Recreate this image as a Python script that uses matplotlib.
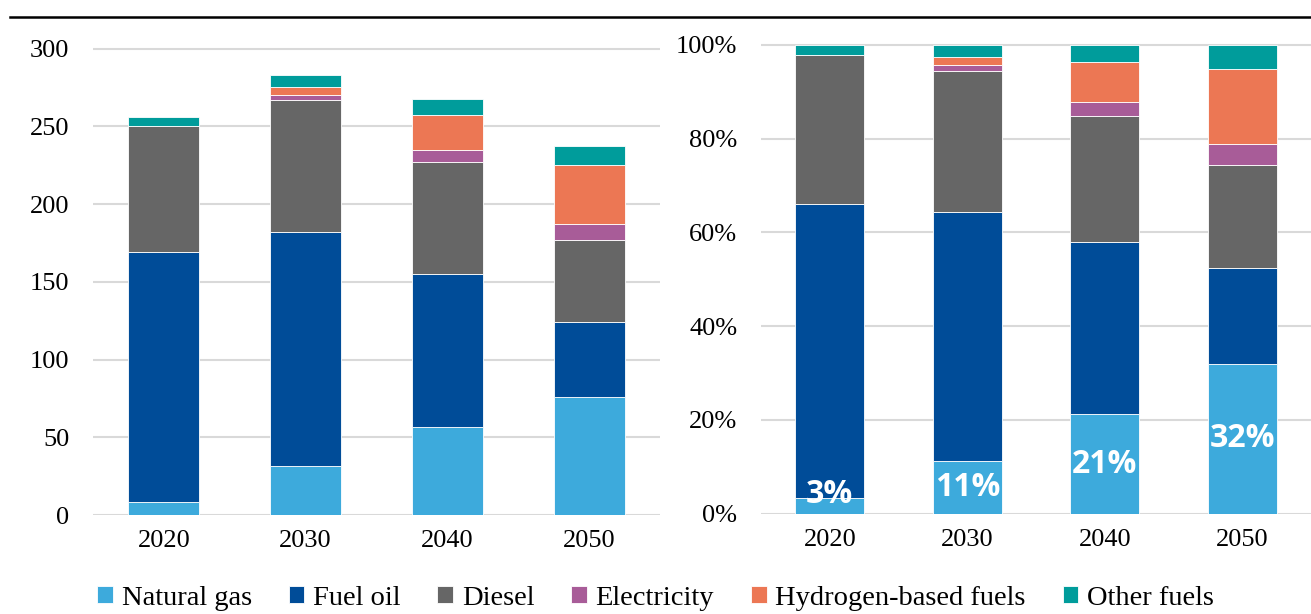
import numpy as np
import matplotlib
matplotlib.use('Agg')
import matplotlib.pyplot as plt
from matplotlib.lines import Line2D
from matplotlib.ticker import PercentFormatter

plt.rcParams['font.family'] = ['Liberation Serif', 'DejaVu Serif']
plt.rcParams['font.size'] = 19

# final energy use by fuel
years = ['2020', '2030', '2040', '2050']
natural_gas = [8.6, 31.5, 56.6, 75.9]
fuel_oil = [160.4, 150.4, 98.3, 48.5]
diesel = [81.5, 85.4, 72.1, 52.4]
electricity = [0.0, 3.2, 7.9, 10.7]
hydrogen = [0.0, 4.9, 22.7, 38.0]
other_fuels = [5.4, 7.5, 9.9, 12.1]

fuel_names = ['Natural gas', 'Fuel oil', 'Diesel', 'Electricity',
              'Hydrogen-based fuels', 'Other fuels']
colors = ['#3DAADC', '#004C98', '#666666', '#A85C98', '#EC7754', '#009C9B']

series = np.array([natural_gas, fuel_oil, diesel, electricity, hydrogen, other_fuels])
shares = series / series.sum(axis=0)

fig = plt.figure(figsize=(13.11, 6.14), dpi=100)
ax0 = fig.add_axes([0.0709, 0.1612, 0.4325, 0.7721])
ax1 = fig.add_axes([0.5805, 0.1634, 0.4195, 0.7787])

x = np.arange(len(years))
handles = []
for ax, vals in [(ax0, series), (ax1, shares)]:
    bottom = np.zeros(len(years))
    for i in range(len(fuel_names)):
        b = ax.bar(x, vals[i], 0.5, bottom=bottom, color=colors[i],
                   edgecolor='white', linewidth=0.6, zorder=3)
        if ax is ax0:
            handles.append(b)
        bottom += vals[i]

ax0.set_ylim(0, 305)
ax0.set_yticks([0, 50, 100, 150, 200, 250, 300])
ax1.set_ylim(0, 1.02)
ax1.set_yticks([0, 0.2, 0.4, 0.6, 0.8, 1.0])
ax1.yaxis.set_major_formatter(PercentFormatter(1.0, decimals=0))

# natural gas share labels
for i in range(len(years)):
    s = shares[0][i]
    ax1.text(x[i], max(s / 2, 0.04), '%d%%' % round(s * 100), color='white',
             ha='center', va='center', fontsize=23, fontweight='bold',
             family=['Open Sans', 'DejaVu Sans'], zorder=5)

for ax in [ax0, ax1]:
    ax.set_xlim(-0.5, 3.5)
    ax.set_xticks(x)
    ax.set_xticklabels(years)
    ax.grid(axis='y', color='#D9D9D9', linewidth=1.5, zorder=0)
    for s in ax.spines.values():
        s.set_visible(False)
    ax.tick_params(axis='both', length=0)
    ax.tick_params(axis='y', pad=17)
    ax.tick_params(axis='x', pad=11)
    ax.set_axisbelow(True)

fig.add_artist(Line2D([0.0076, 1.0], [0.9728, 0.9728], color='black',
                      linewidth=1.8, transform=fig.transFigure))

fig.legend(handles, fuel_names, loc='center', bbox_to_anchor=(0.5, 0.026),
           ncol=6, frameon=False, fontsize=20.5, handlelength=0.55,
           handleheight=0.55, handletextpad=0.3, columnspacing=1.3,
           borderaxespad=0)

plt.savefig('out.png', dpi=100)
